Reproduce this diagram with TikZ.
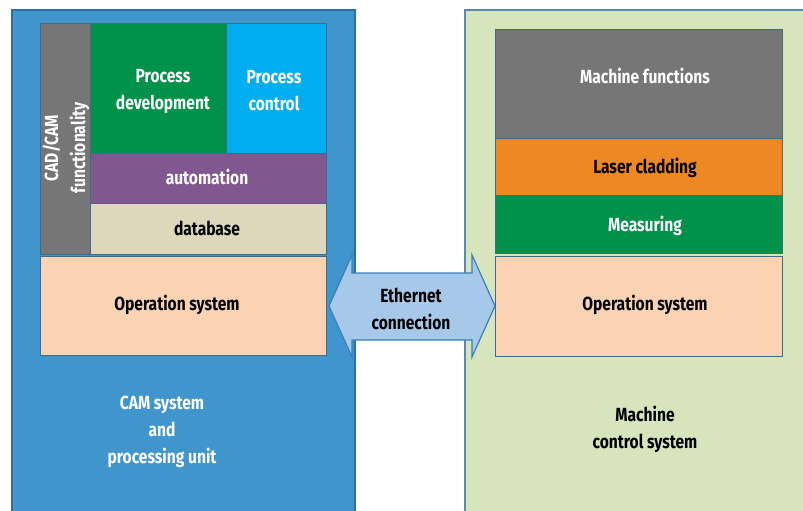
\documentclass[tikz,border=0pt]{standalone}
\usepackage{fontspec}
\setmainfont{Fira Sans}[FakeStretch=0.82,UprightFont=* SemiBold,BoldFont=* Bold]
\definecolor{bigblue}{HTML}{4195CD}
\definecolor{bigblueb}{HTML}{2E6FA5}
\definecolor{biggreen}{HTML}{D6E5BB}
\definecolor{biggreenb}{HTML}{5C8AAE}
\definecolor{pgreen}{HTML}{00924A}
\definecolor{pcyan}{HTML}{00AEEF}
\definecolor{ppurple}{HTML}{80588F}
\definecolor{pbeige}{HTML}{DDD8BC}
\definecolor{pgray}{HTML}{767676}
\definecolor{ppeach}{HTML}{FAD3B3}
\definecolor{porange}{HTML}{EE8822}
\definecolor{arrfill}{HTML}{A6C9EA}
\definecolor{arrb}{HTML}{3C7EB5}
\definecolor{edge}{HTML}{3F6A8C}
\tikzset{
  blk/.style={draw=edge, line width=1pt},
  lbl/.style={font=\fontsize{19}{27}\selectfont\bfseries, align=center, inner sep=0pt},
}
\begin{document}
\begin{tikzpicture}[x=1pt,y=-1pt]
\useasboundingbox (0,0) rectangle (803,511);
% big boxes
\draw[fill=bigblue, draw=bigblueb, line width=1.2pt] (12,10) rectangle (355,515);
\draw[fill=biggreen, draw=biggreenb, line width=1.2pt] (465,10) rectangle (808,515);
% left stack
\draw[blk, fill=pgray] (40,24) rectangle (90,254);
\node[lbl, white, rotate=90] (cad) at (66,148) {CAD/CAM\\functionality};
\draw[blk, fill=pgreen] (90,24) rectangle (226,153);
\node[lbl, white] (pdev) at (163,92) {Process\\development};
\draw[blk, fill=pcyan] (226,24) rectangle (326,153);
\node[lbl, white] (pctl) at (274,91) {Process\\control};
\draw[blk, fill=ppurple] (90,153) rectangle (326,203);
\node[lbl, white] (auto) at (207,177) {automation};
\draw[blk, fill=pbeige] (90,203) rectangle (326,254);
\node[lbl, black] (db) at (207,228) {database};
\draw[blk, fill=ppeach] (40,256) rectangle (326,355);
\node[lbl, black] (os1) at (177,305) {Operation system};
% right stack
\draw[blk, fill=pgray] (495,30) rectangle (782,138);
\node[lbl, white] (mf) at (645,76) {Machine functions};
\draw[blk, fill=porange] (495,138) rectangle (782,195);
\node[lbl, black] (lc) at (645,168) {Laser cladding};
\draw[blk, fill=pgreen] (495,195) rectangle (782,253);
\node[lbl, white] (ms) at (645,226) {Measuring};
\draw[blk, fill=ppeach] (495,256) rectangle (782,356);
\node[lbl, black] (os2) at (645,305) {Operation system};
% arrow
\draw[fill=arrfill, draw=arrb, line width=1.2pt]
  (329,306) -- (352,255) -- (352,273) -- (472,273) -- (472,255) -- (495,306)
  -- (472,357) -- (472,340) -- (352,340) -- (352,357) -- cycle;
\node[lbl, black] (eth) at (411,309) {Ethernet\\connection};
% captions
\node[lbl, white] (cam) at (162,432) {CAM system\\and\\processing unit};
\node[lbl, black] (mcs) at (645,429) {Machine\\control system};
\end{tikzpicture}
\end{document}
